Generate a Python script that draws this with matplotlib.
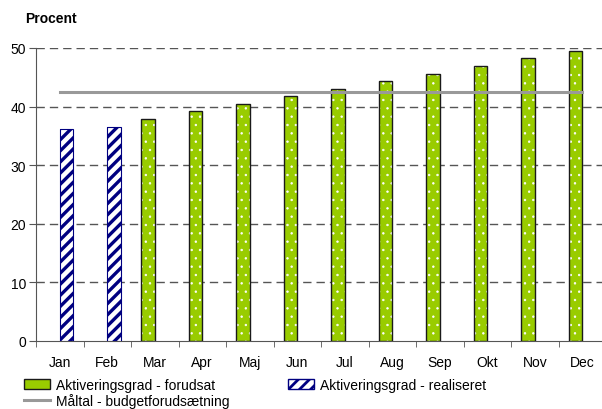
import matplotlib
matplotlib.use('Agg')
import matplotlib.pyplot as plt
import numpy as np
from matplotlib.patches import Patch
from matplotlib.lines import Line2D

months = ["Jan", "Feb", "Mar", "Apr", "Maj", "Jun", "Jul", "Aug", "Sep", "Okt", "Nov", "Dec"]
forudsat = [np.nan, np.nan, 37.9, 39.2, 40.4, 41.8, 43.0, 44.3, 45.6, 47.0, 48.3, 49.5]
realiseret = [36.1, 36.5, np.nan, np.nan, np.nan, np.nan, np.nan, np.nan, np.nan, np.nan, np.nan, np.nan]
maaltal = [42.5] * 12
yticks = [0, 10, 20, 30, 40, 50]

plt.rcParams['font.family'] = ['Liberation Sans', 'DejaVu Sans']

GREEN = "#99cc00"
NAVY = "#000080"
GREY = "#999999"

fig = plt.figure(figsize=(6.02, 4.10), dpi=100)
ax = fig.add_axes([36 / 602, 1 - 342 / 410, 570 / 602, 293 / 410])

x = np.arange(len(months))
w = 0.285

# green bars: fill slightly offset, white dots, dark outline
with plt.rc_context({'hatch.linewidth': 0.5}):
    ax.bar(x - w / 2 + 0.025, forudsat, w, color=GREEN, linewidth=0, zorder=2)
    ax.bar(x - w / 2, forudsat, w, color=GREEN, edgecolor="white", hatch="..", linewidth=0, zorder=3)
ax.bar(x - w / 2, forudsat, w, fill=False, edgecolor="#1a1a1a", linewidth=1.0, zorder=4)

# hatched realised bars
with plt.rc_context({'hatch.linewidth': 2.4}):
    ax.bar(x + w / 2, realiseret, w, color="white", edgecolor=NAVY, hatch="///", linewidth=0, zorder=3)
ax.bar(x + w / 2, realiseret, w, fill=False, edgecolor=NAVY, linewidth=0.8, zorder=4)

ax.plot(x, maaltal, color=GREY, linewidth=2.2, zorder=5)

ax.set_xlim(-0.5, 11.5)
ax.set_ylim(0, 50)
ax.set_yticks(yticks)
ax.set_yticklabels([str(v) for v in yticks], fontsize=10)
ax.set_xticks(x)
ax.set_xticklabels(months, fontsize=10)
ax.set_xticks(np.arange(-0.5, 12, 1), minor=True)
ax.tick_params(axis='x', which='major', length=0, pad=10)
ax.tick_params(axis='x', which='minor', length=4, color="#555555")
ax.tick_params(axis='y', length=5, color="#555555", pad=2)

for v in yticks[1:]:
    ax.axhline(v, color="#555555", linewidth=1.0, dashes=(6, 3.6), zorder=1)

for s in ["top", "right"]:
    ax.spines[s].set_visible(False)
ax.spines["left"].set_color("#555555")
ax.spines["bottom"].set_color("#555555")

fig.text(25 / 602, 1 - 19 / 410, "Procent", fontsize=10, fontweight="bold", va="center", ha="left")

with plt.rc_context({'hatch.linewidth': 2.0}):
    handles = [
        Patch(facecolor=GREEN, edgecolor="#1a1a1a", label="Aktiveringsgrad - forudsat"),
        Line2D([0], [0], color=GREY, linewidth=2.2, label="Måltal - budgetforudsætning"),
        Patch(facecolor="white", edgecolor=NAVY, hatch="///", label="Aktiveringsgrad - realiseret"),
    ]
    fig.legend(handles=handles, loc="upper left", bbox_to_anchor=(24 / 602, 1 - 379 / 410),
               ncol=2, frameon=False, fontsize=10, handlelength=1.9, handleheight=0.7,
               handletextpad=0.4, columnspacing=4.2, labelspacing=0.05, borderpad=0,
               borderaxespad=0)

    fig.savefig("out.png", dpi=100)
